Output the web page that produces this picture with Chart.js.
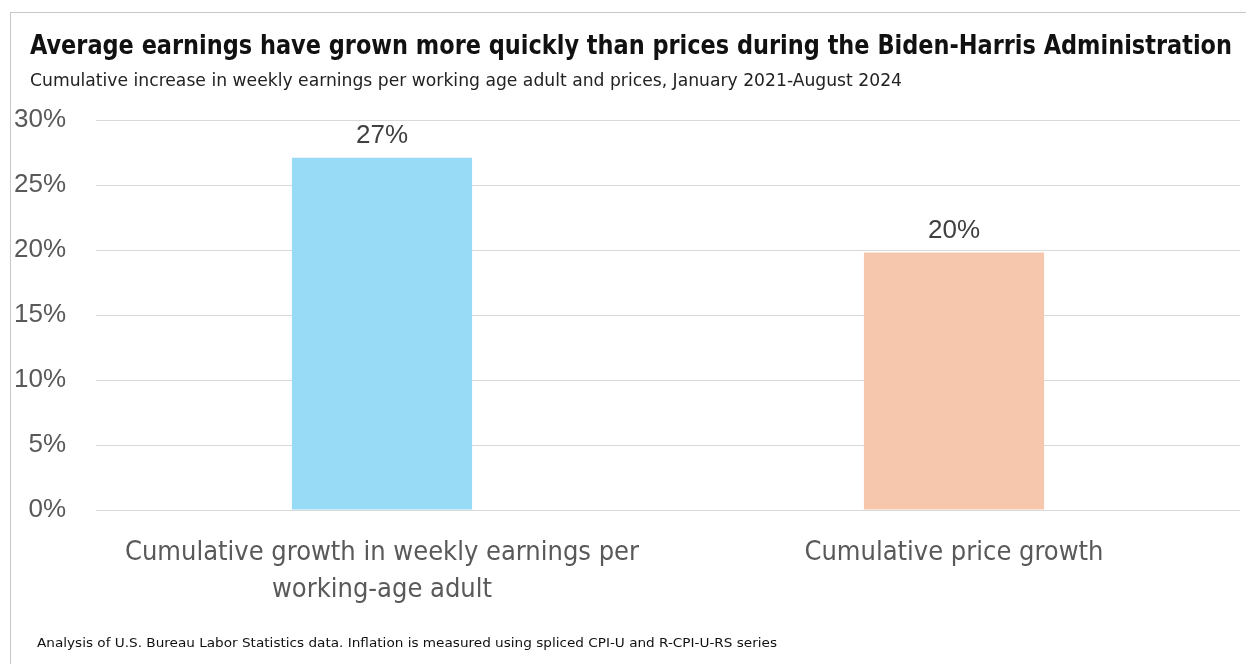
<!DOCTYPE html>
<html lang="en">
<head>
    <meta charset="UTF-8">
    <title>Average earnings vs prices</title>
    <script src="https://cdn.jsdelivr.net/npm/chart.js"></script>
    <style>
        body { margin: 0; background: #fff; }
        .wrap { position: relative; width: 1246px; height: 664px; overflow: hidden; }
        .frame {
            position: absolute; left: 10px; top: 12px; right: -2px; bottom: -2px;
            border-top: 1px solid #c8c8c8; border-left: 1px solid #c8c8c8;
        }
        .txt { position: absolute; white-space: nowrap; transform-origin: left top; }
        #title { left: 30px; top: 29px; font: bold 27px 'Liberation Sans Narrow', 'DejaVu Sans Condensed', 'Liberation Sans', sans-serif; color: #111; }
        #subtitle { left: 30px; top: 70px; font: 17px 'Liberation Sans Narrow', 'DejaVu Sans Condensed', 'Liberation Sans', sans-serif; color: #222; }
        #note { left: 37px; top: 635px; font: 13px 'Liberation Sans Narrow', 'DejaVu Sans Condensed', 'Liberation Sans', sans-serif; color: #111; }
        canvas { position: absolute; left: 0; top: 0; }
    </style>
</head>
<body>
<div class="wrap">
    <div class="frame"></div>
    <canvas id="chart" width="1246" height="664"></canvas>
    <div class="txt" id="title">Average earnings have grown more quickly than prices during the Biden-Harris Administration</div>
    <div class="txt" id="subtitle">Cumulative increase in weekly earnings per working age adult and prices, January 2021-August 2024</div>
    <div class="txt" id="note">Analysis of U.S. Bureau Labor Statistics data. Inflation is measured using spliced CPI-U and R-CPI-U-RS series</div>
</div>
<script>
    // data
    const categories = [
        ['Cumulative growth in weekly earnings per', 'working-age adult'],
        'Cumulative price growth'
    ];
    const values = [27.1, 19.8];
    const valueLabels = ['27%', '20%'];
    const barColors = ['#97dbf7', '#f7c7ad'];
    const yTicks = [0, 5, 10, 15, 20, 25, 30];

    // squeeze the html text lines to the width they have in the picture
    function fit(id, width) {
        const el = document.getElementById(id);
        const w = el.getBoundingClientRect().width;
        el.style.transform = 'scaleX(' + (width / w) + ')';
    }
    fit('title', 1202);
    fit('subtitle', 872);
    fit('note', 740);

    const valueLabelPlugin = {
        id: 'valueLabels',
        afterDatasetsDraw(chart) {
            const ctx = chart.ctx;
            const meta = chart.getDatasetMeta(0);
            ctx.save();
            ctx.font = '26px "Liberation Sans", Arial, sans-serif';
            ctx.fillStyle = '#404040';
            ctx.textAlign = 'center';
            ctx.textBaseline = 'alphabetic';
            meta.data.forEach((bar, i) => {
                ctx.fillText(valueLabels[i], bar.x, bar.y - 15);
            });
            ctx.restore();
        }
    };

    new Chart(document.getElementById('chart').getContext('2d'), {
        type: 'bar',
        data: {
            labels: categories,
            datasets: [{
                data: values,
                backgroundColor: barColors,
                borderWidth: 0,
                categoryPercentage: 1,
                barPercentage: 0.315
            }]
        },
        options: {
            responsive: false,
            animation: false,
            layout: { padding: { top: 120, right: 6, left: 0, bottom: 0 } },
            plugins: {
                legend: { display: false },
                tooltip: { enabled: false }
            },
            scales: {
                x: {
                    grid: { display: false },
                    border: { display: false },
                    ticks: {
                        color: '#595959',
                        padding: 16,
                        font: { family: "'Liberation Sans Narrow', 'DejaVu Sans Condensed', sans-serif", size: 27, lineHeight: 1.37 },
                        maxRotation: 0
                    },
                    afterFit(scale) { scale.height = 154; }
                },
                y: {
                    min: 0,
                    max: 30,
                    afterBuildTicks(scale) { scale.ticks = yTicks.map(v => ({ value: v })); },
                    grid: { color: '#d9d9d9', drawTicks: false, lineWidth: 1 },
                    border: { display: false },
                    ticks: {
                        color: '#595959',
                        padding: 30,
                        font: { family: "'Liberation Sans', Arial, sans-serif", size: 26 },
                        callback: v => v + '%'
                    },
                    afterFit(scale) { scale.width = 96; }
                }
            }
        },
        plugins: [valueLabelPlugin]
    });
</script>
</body>
</html>
